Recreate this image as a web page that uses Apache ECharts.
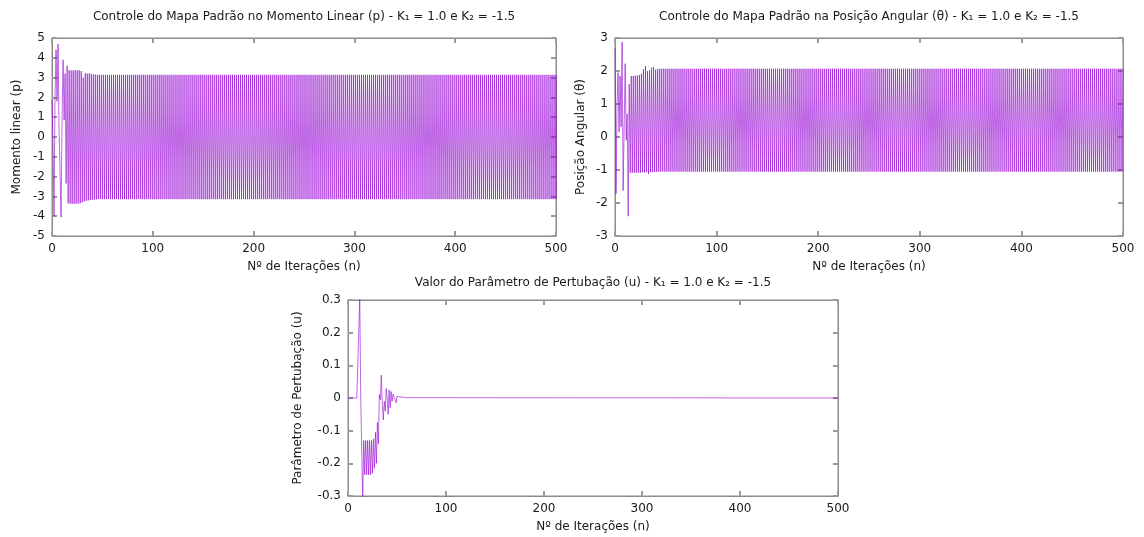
<!DOCTYPE html>
<html>
<head>
<meta charset="utf-8">
<title>Controle do Mapa Padrão</title>
<script src="https://cdn.jsdelivr.net/npm/echarts@6/dist/echarts.min.js"></script>
<style>
html,body{margin:0;padding:0;background:#fff}
#main{width:1144px;height:537px}
</style>
</head>
<body>
<div id="main"></div>
<script>
// momento linear p, one value per iteration n = 0..500
const pValues = [
1.9,-0.4,-4.0,2.0,4.4,1.8,4.7,0.5,-1.8,-4.05,
1.0,3.9,0.85,3.2,-2.35,3.6,-3.35,3.37,-3.37,3.37,
-3.37,3.37,-3.37,3.37,-3.37,3.37,-3.36,3.37,-3.35,3.33,
-3.3,3.0,-3.25,3.22,-3.22,3.2,-3.2,3.22,-3.18,3.18,
-3.17,3.16,-3.16,3.15,-3.15,3.14,-3.14,3.14,-3.14,3.14,
-3.14,3.14,-3.14,3.14,-3.14,3.14,-3.14,3.14,-3.14,3.14,-3.14,3.14,-3.14,3.14,-3.14,3.14,-3.14,3.14,-3.14,3.14,
-3.14,3.14,-3.14,3.14,-3.14,3.14,-3.14,3.14,-3.14,3.14,-3.14,3.14,-3.14,3.14,-3.14,3.14,-3.14,3.14,-3.14,3.14,
-3.14,3.14,-3.14,3.14,-3.14,3.14,-3.14,3.14,-3.14,3.14,-3.14,3.14,-3.14,3.14,-3.14,3.14,-3.14,3.14,-3.14,3.14,
-3.14,3.14,-3.14,3.14,-3.14,3.14,-3.14,3.14,-3.14,3.14,-3.14,3.14,-3.14,3.14,-3.14,3.14,-3.14,3.14,-3.14,3.14,
-3.14,3.14,-3.14,3.14,-3.14,3.14,-3.14,3.14,-3.14,3.14,-3.14,3.14,-3.14,3.14,-3.14,3.14,-3.14,3.14,-3.14,3.14,
-3.14,3.14,-3.14,3.14,-3.14,3.14,-3.14,3.14,-3.14,3.14,-3.14,3.14,-3.14,3.14,-3.14,3.14,-3.14,3.14,-3.14,3.14,
-3.14,3.14,-3.14,3.14,-3.14,3.14,-3.14,3.14,-3.14,3.14,-3.14,3.14,-3.14,3.14,-3.14,3.14,-3.14,3.14,-3.14,3.14,
-3.14,3.14,-3.14,3.14,-3.14,3.14,-3.14,3.14,-3.14,3.14,-3.14,3.14,-3.14,3.14,-3.14,3.14,-3.14,3.14,-3.14,3.14,
-3.14,3.14,-3.14,3.14,-3.14,3.14,-3.14,3.14,-3.14,3.14,-3.14,3.14,-3.14,3.14,-3.14,3.14,-3.14,3.14,-3.14,3.14,
-3.14,3.14,-3.14,3.14,-3.14,3.14,-3.14,3.14,-3.14,3.14,-3.14,3.14,-3.14,3.14,-3.14,3.14,-3.14,3.14,-3.14,3.14,
-3.14,3.14,-3.14,3.14,-3.14,3.14,-3.14,3.14,-3.14,3.14,-3.14,3.14,-3.14,3.14,-3.14,3.14,-3.14,3.14,-3.14,3.14,
-3.14,3.14,-3.14,3.14,-3.14,3.14,-3.14,3.14,-3.14,3.14,-3.14,3.14,-3.14,3.14,-3.14,3.14,-3.14,3.14,-3.14,3.14,
-3.14,3.14,-3.14,3.14,-3.14,3.14,-3.14,3.14,-3.14,3.14,-3.14,3.14,-3.14,3.14,-3.14,3.14,-3.14,3.14,-3.14,3.14,
-3.14,3.14,-3.14,3.14,-3.14,3.14,-3.14,3.14,-3.14,3.14,-3.14,3.14,-3.14,3.14,-3.14,3.14,-3.14,3.14,-3.14,3.14,
-3.14,3.14,-3.14,3.14,-3.14,3.14,-3.14,3.14,-3.14,3.14,-3.14,3.14,-3.14,3.14,-3.14,3.14,-3.14,3.14,-3.14,3.14,
-3.14,3.14,-3.14,3.14,-3.14,3.14,-3.14,3.14,-3.14,3.14,-3.14,3.14,-3.14,3.14,-3.14,3.14,-3.14,3.14,-3.14,3.14,
-3.14,3.14,-3.14,3.14,-3.14,3.14,-3.14,3.14,-3.14,3.14,-3.14,3.14,-3.14,3.14,-3.14,3.14,-3.14,3.14,-3.14,3.14,
-3.14,3.14,-3.14,3.14,-3.14,3.14,-3.14,3.14,-3.14,3.14,-3.14,3.14,-3.14,3.14,-3.14,3.14,-3.14,3.14,-3.14,3.14,
-3.14,3.14,-3.14,3.14,-3.14,3.14,-3.14,3.14,-3.14,3.14,-3.14,3.14,-3.14,3.14,-3.14,3.14,-3.14,3.14,-3.14,3.14,
-3.14,3.14,-3.14,3.14,-3.14,3.14,-3.14,3.14,-3.14,3.14,-3.14,3.14,-3.14,3.14,-3.14,3.14,-3.14,3.14,-3.14,3.14,
-3.14,3.14,-3.14,3.14,-3.14,3.14,-3.14,3.14,-3.14,3.14,-3.14,3.14,-3.14,3.14,-3.14,3.14,-3.14,3.14,-3.14,3.14,
-3.14,3.14,-3.14,3.14,-3.14,3.14,-3.14,3.14,-3.14,3.14,-3.14,3.14,-3.14,3.14,-3.14,3.14,-3.14,3.14,-3.14,3.14,
-3.14,3.14,-3.14,3.14,-3.14,3.14,-3.14,3.14,-3.14,3.14,-3.14,3.14,-3.14,3.14,-3.14,3.14,-3.14,3.14,-3.14,3.14,
-3.14,3.14,-3.14,3.14,-3.14,3.14,-3.14,3.14,-3.14,3.14,-3.14
];

// posição angular theta, n = 0..500
const thetaValues = [
2.7,-1.72,1.0,1.95,0.16,1.85,0.31,2.88,-1.62,0.3,
2.22,-0.1,0.7,-2.4,1.6,-1.08,1.85,-1.08,1.85,-1.08,
1.86,-1.08,1.86,-1.08,1.88,-1.08,1.92,-1.07,2.05,-1.08,
2.15,-1.06,2.0,-1.12,2.02,-1.07,2.1,-1.06,2.12,-1.06,
2.04,-1.06,2.06,-1.05,2.07,-1.05,2.07,-1.05,2.07,-1.05,
2.07,-1.05,2.07,-1.05,2.07,-1.05,2.07,-1.05,2.07,-1.05,2.07,-1.05,2.07,-1.05,2.07,-1.05,2.07,-1.05,2.07,-1.05,
2.07,-1.05,2.07,-1.05,2.07,-1.05,2.07,-1.05,2.07,-1.05,2.07,-1.05,2.07,-1.05,2.07,-1.05,2.07,-1.05,2.07,-1.05,
2.07,-1.05,2.07,-1.05,2.07,-1.05,2.07,-1.05,2.07,-1.05,2.07,-1.05,2.07,-1.05,2.07,-1.05,2.07,-1.05,2.07,-1.05,
2.07,-1.05,2.07,-1.05,2.07,-1.05,2.07,-1.05,2.07,-1.05,2.07,-1.05,2.07,-1.05,2.07,-1.05,2.07,-1.05,2.07,-1.05,
2.07,-1.05,2.07,-1.05,2.07,-1.05,2.07,-1.05,2.07,-1.05,2.07,-1.05,2.07,-1.05,2.07,-1.05,2.07,-1.05,2.07,-1.05,
2.07,-1.05,2.07,-1.05,2.07,-1.05,2.07,-1.05,2.07,-1.05,2.07,-1.05,2.07,-1.05,2.07,-1.05,2.07,-1.05,2.07,-1.05,
2.07,-1.05,2.07,-1.05,2.07,-1.05,2.07,-1.05,2.07,-1.05,2.07,-1.05,2.07,-1.05,2.07,-1.05,2.07,-1.05,2.07,-1.05,
2.07,-1.05,2.07,-1.05,2.07,-1.05,2.07,-1.05,2.07,-1.05,2.07,-1.05,2.07,-1.05,2.07,-1.05,2.07,-1.05,2.07,-1.05,
2.07,-1.05,2.07,-1.05,2.07,-1.05,2.07,-1.05,2.07,-1.05,2.07,-1.05,2.07,-1.05,2.07,-1.05,2.07,-1.05,2.07,-1.05,
2.07,-1.05,2.07,-1.05,2.07,-1.05,2.07,-1.05,2.07,-1.05,2.07,-1.05,2.07,-1.05,2.07,-1.05,2.07,-1.05,2.07,-1.05,
2.07,-1.05,2.07,-1.05,2.07,-1.05,2.07,-1.05,2.07,-1.05,2.07,-1.05,2.07,-1.05,2.07,-1.05,2.07,-1.05,2.07,-1.05,
2.07,-1.05,2.07,-1.05,2.07,-1.05,2.07,-1.05,2.07,-1.05,2.07,-1.05,2.07,-1.05,2.07,-1.05,2.07,-1.05,2.07,-1.05,
2.07,-1.05,2.07,-1.05,2.07,-1.05,2.07,-1.05,2.07,-1.05,2.07,-1.05,2.07,-1.05,2.07,-1.05,2.07,-1.05,2.07,-1.05,
2.07,-1.05,2.07,-1.05,2.07,-1.05,2.07,-1.05,2.07,-1.05,2.07,-1.05,2.07,-1.05,2.07,-1.05,2.07,-1.05,2.07,-1.05,
2.07,-1.05,2.07,-1.05,2.07,-1.05,2.07,-1.05,2.07,-1.05,2.07,-1.05,2.07,-1.05,2.07,-1.05,2.07,-1.05,2.07,-1.05,
2.07,-1.05,2.07,-1.05,2.07,-1.05,2.07,-1.05,2.07,-1.05,2.07,-1.05,2.07,-1.05,2.07,-1.05,2.07,-1.05,2.07,-1.05,
2.07,-1.05,2.07,-1.05,2.07,-1.05,2.07,-1.05,2.07,-1.05,2.07,-1.05,2.07,-1.05,2.07,-1.05,2.07,-1.05,2.07,-1.05,
2.07,-1.05,2.07,-1.05,2.07,-1.05,2.07,-1.05,2.07,-1.05,2.07,-1.05,2.07,-1.05,2.07,-1.05,2.07,-1.05,2.07,-1.05,
2.07,-1.05,2.07,-1.05,2.07,-1.05,2.07,-1.05,2.07,-1.05,2.07,-1.05,2.07,-1.05,2.07,-1.05,2.07,-1.05,2.07,-1.05,
2.07,-1.05,2.07,-1.05,2.07,-1.05,2.07,-1.05,2.07,-1.05,2.07,-1.05,2.07,-1.05,2.07,-1.05,2.07,-1.05,2.07,-1.05,
2.07,-1.05,2.07,-1.05,2.07,-1.05,2.07,-1.05,2.07,-1.05,2.07,-1.05,2.07,-1.05,2.07,-1.05,2.07,-1.05,2.07,-1.05,
2.07,-1.05,2.07,-1.05,2.07,-1.05,2.07,-1.05,2.07,-1.05,2.07,-1.05,2.07,-1.05,2.07,-1.05,2.07,-1.05,2.07,-1.05,
2.07,-1.05,2.07,-1.05,2.07,-1.05,2.07,-1.05,2.07,-1.05,2.07
];

// parâmetro de pertubação u: n = 0..60, then stays 0 up to n = 500
const uValues = [
0,0,0,0,0,0,0,0,0,0,
0,0,0.31,0,0,-0.32,-0.13,-0.235,-0.13,-0.235,
-0.13,-0.235,-0.13,-0.235,-0.13,-0.23,-0.125,-0.215,-0.105,-0.2,
-0.075,-0.14,0.01,-0.005,0.07,-0.02,-0.067,-0.01,-0.04,0.029,
0,-0.05,0.025,-0.03,0.02,-0.01,0.012,0.015,-0.005,-0.015,
0.005,0,0.005,0.003,0.005,0.004,0.003,0.002,0.001,0.001,
0
];
const uLastIter = 500;
const uLastValue = 0;

const titles = [
  'Controle do Mapa Padrão no Momento Linear (p) - K₁ = 1.0 e K₂ = -1.5',
  'Controle do Mapa Padrão na Posição Angular (θ) - K₁ = 1.0 e K₂ = -1.5',
  'Valor do Parâmetro de Pertubação (u) - K₁ = 1.0 e K₂ = -1.5'
];
const yNames = ['Momento linear (p)', 'Posição Angular (θ)', 'Parâmetro de Pertubação (u)'];
const xName = 'Nº de Iterações (n)';
const yRanges = [[-5, 5, 1], [-3, 3, 1], [-0.3, 0.3, 0.1]];
const xRange = [0, 500, 100];

var font = 'DejaVu Sans';
var textColor = '#1a1a1a';
var boxColor = '#8c8c8c';
var lineColor = '#9400d3';

var grids = [
  {left: 52, top: 38, width: 504, height: 198},
  {left: 615, top: 38, width: 508, height: 198},
  {left: 348, top: 300, width: 490, height: 196}
];
var titlePos = [[304, 17], [869, 17], [593, 283]];
var yNameGaps = [29, 28, 44];

var toPairs = arr => arr.map((v, i) => [i, v]);
var uPairs = toPairs(uValues);
uPairs.push([uLastIter, uLastValue]);
var seriesData = [toPairs(pValues), toPairs(thetaValues), uPairs];

// fresh objects for each axis
function tick() {
  return {show: true, inside: true, length: 5, lineStyle: {color: '#9a9a9a', width: 2}};
}
function line() {
  return {show: true, onZero: false, lineStyle: {color: boxColor, width: 1}};
}
function label(show) {
  return {show: show, margin: 7, fontFamily: font, fontSize: 12, color: textColor};
}

var xAxes = [], yAxes = [], series = [], graphics = [];
grids.forEach((g, i) => {
  g.show = true;
  g.borderColor = boxColor;
  g.borderWidth = 1;
  xAxes.push({
    type: 'value', gridIndex: i, position: 'bottom',
    min: xRange[0], max: xRange[1], interval: xRange[2],
    name: xName, nameLocation: 'middle', nameGap: 25,
    nameTextStyle: {fontFamily: font, fontSize: 12, color: textColor},
    axisLine: line(), axisTick: tick(), splitLine: {show: false},
    axisLabel: label(true)
  });
  xAxes.push({
    type: 'value', gridIndex: i, position: 'top',
    min: xRange[0], max: xRange[1], interval: xRange[2],
    axisLine: line(), axisTick: tick(), splitLine: {show: false},
    axisLabel: label(false)
  });
  yAxes.push({
    type: 'value', gridIndex: i, position: 'left',
    min: yRanges[i][0], max: yRanges[i][1], interval: yRanges[i][2],
    name: yNames[i], nameLocation: 'middle', nameGap: yNameGaps[i], nameRotate: 90,
    nameTextStyle: {fontFamily: font, fontSize: 12, color: textColor},
    axisLine: line(), axisTick: tick(), splitLine: {show: false},
    axisLabel: label(true)
  });
  yAxes.push({
    type: 'value', gridIndex: i, position: 'right',
    min: yRanges[i][0], max: yRanges[i][1], interval: yRanges[i][2],
    axisLine: line(), axisTick: tick(), splitLine: {show: false},
    axisLabel: label(false)
  });
  series.push({
    type: 'line', xAxisIndex: 2 * i, yAxisIndex: 2 * i,
    data: seriesData[i], symbol: 'none', clip: true,
    lineStyle: {color: lineColor, width: 1, opacity: 0.6}
  });
  graphics.push({
    type: 'text', x: titlePos[i][0], y: titlePos[i][1],
    style: {text: titles[i], fontFamily: font, fontSize: 12, fill: textColor,
            align: 'center', verticalAlign: 'middle'}
  });
});

var chart = echarts.init(document.getElementById('main'));
chart.setOption({
  animation: false,
  backgroundColor: '#fff',
  grid: grids,
  xAxis: xAxes,
  yAxis: yAxes,
  series: series,
  graphic: graphics
});
</script>
</body>
</html>
